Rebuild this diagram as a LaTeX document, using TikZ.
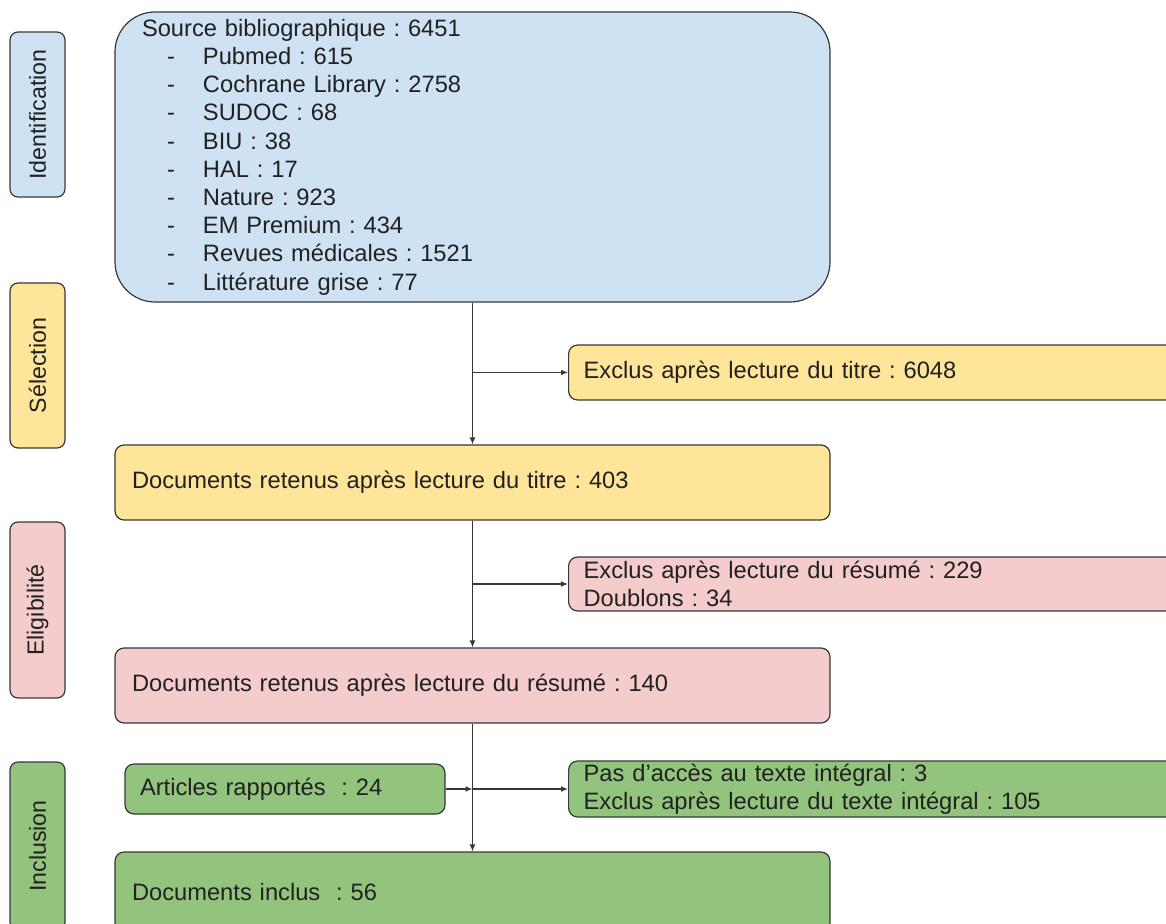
\documentclass[tikz,border=0pt]{standalone}
\usepackage{fontspec}
\setmainfont{Liberation Sans}
\usetikzlibrary{arrows.meta}
\definecolor{bleu}{HTML}{CFE2F3}
\definecolor{jaune}{HTML}{FFE599}
\definecolor{rose}{HTML}{F4CCCC}
\definecolor{vert}{HTML}{93C47D}
\definecolor{trait}{HTML}{383838}
\newcommand{\tiret}{\hspace*{25pt}\makebox[36pt][l]{-}}
\frenchspacing

\begin{document}
\begin{tikzpicture}[x=1pt,y=-1pt,>={Latex[length=7pt,width=6pt]},
  box/.style={draw=trait,line width=1.2pt,rounded corners=9pt,align=left,
    inner ysep=1pt,text=black!87,font=\fontsize{23.7}{28.2}\selectfont},
  phase/.style={draw=trait,line width=1.2pt,rounded corners=8pt,rotate=90,
    minimum height=55pt,inner sep=0pt,text=black!87,font=\fontsize{23.2}{28}\selectfont},
  fleche/.style={->,draw=trait,line width=1.2pt}]
\clip (0,0) rectangle (1166,923);
% phases
\node[phase,fill=bleu,minimum width=165pt] (ident) at (37.5,114.5) {Identification};
\node[phase,fill=jaune,minimum width=165pt] (select) at (37.5,365.5) {Sélection};
\node[phase,fill=rose,minimum width=176pt] (eligib) at (37.5,610) {Eligibilité};
\node[phase,fill=vert,minimum width=168pt] (inclu) at (37.5,846) {Inclusion};
% colonne centrale
\node[box,fill=bleu,rounded corners=40pt,text width=661pt,inner xsep=27pt,minimum height=290pt] (source) at (472.5,157) {Source bibliographique : 6451\\
\tiret Pubmed : 615\\
\tiret Cochrane Library : 2758\\
\tiret SUDOC : 68\\
\tiret BIU : 38\\
\tiret HAL : 17\\
\tiret Nature : 923\\
\tiret EM Premium : 434\\
\tiret Revues médicales : 1521\\
\tiret Littérature grise : 77};
\node[box,fill=jaune,text width=681pt,inner xsep=17pt,minimum height=75pt] (retenus1) at (472.5,482.5) {Documents retenus après lecture du titre : 403};
\node[box,fill=rose,text width=681pt,inner xsep=17pt,minimum height=75pt] (retenus2) at (472.5,685.5) {Documents retenus après lecture du résumé : 140};
\node[box,fill=vert,text width=681pt,inner xsep=17pt,minimum height=80pt] (inclus) at (472.5,892) {Documents inclus~ : 56};
\node[box,fill=vert,text width=290pt,inner xsep=15pt,minimum height=50pt] (articles) at (285,789) {Articles rapportés~ : 24};
% exclusions
\node[box,fill=jaune,anchor=west,text width=630pt,inner xsep=15pt,minimum height=55pt] (excl1) at (568,372.5) {Exclus après lecture du titre : 6048};
\node[box,fill=rose,anchor=west,text width=630pt,inner xsep=15pt,minimum height=54pt] (excl2) at (568,584) {Exclus après lecture du résumé : 229\\Doublons : 34};
\node[box,fill=vert,anchor=west,text width=630pt,inner xsep=15pt,minimum height=56pt] (pas) at (568,789) {Pas d’accès au texte intégral : 3\\Exclus après lecture du texte intégral : 105};
% fleches
\draw[fleche] (source) -- (retenus1);
\draw[fleche] (source.south |- excl1.west) -- (excl1.west);
\draw[fleche] (retenus1) -- (retenus2);
\draw[fleche] (retenus1.south |- excl2.west) -- (excl2.west);
\draw[fleche] (retenus2) -- (inclus);
\draw[fleche] (articles.east) -- (articles -| retenus2.south);
\draw[fleche] (retenus2.south |- pas.west) -- (pas.west);
\end{tikzpicture}
\end{document}
